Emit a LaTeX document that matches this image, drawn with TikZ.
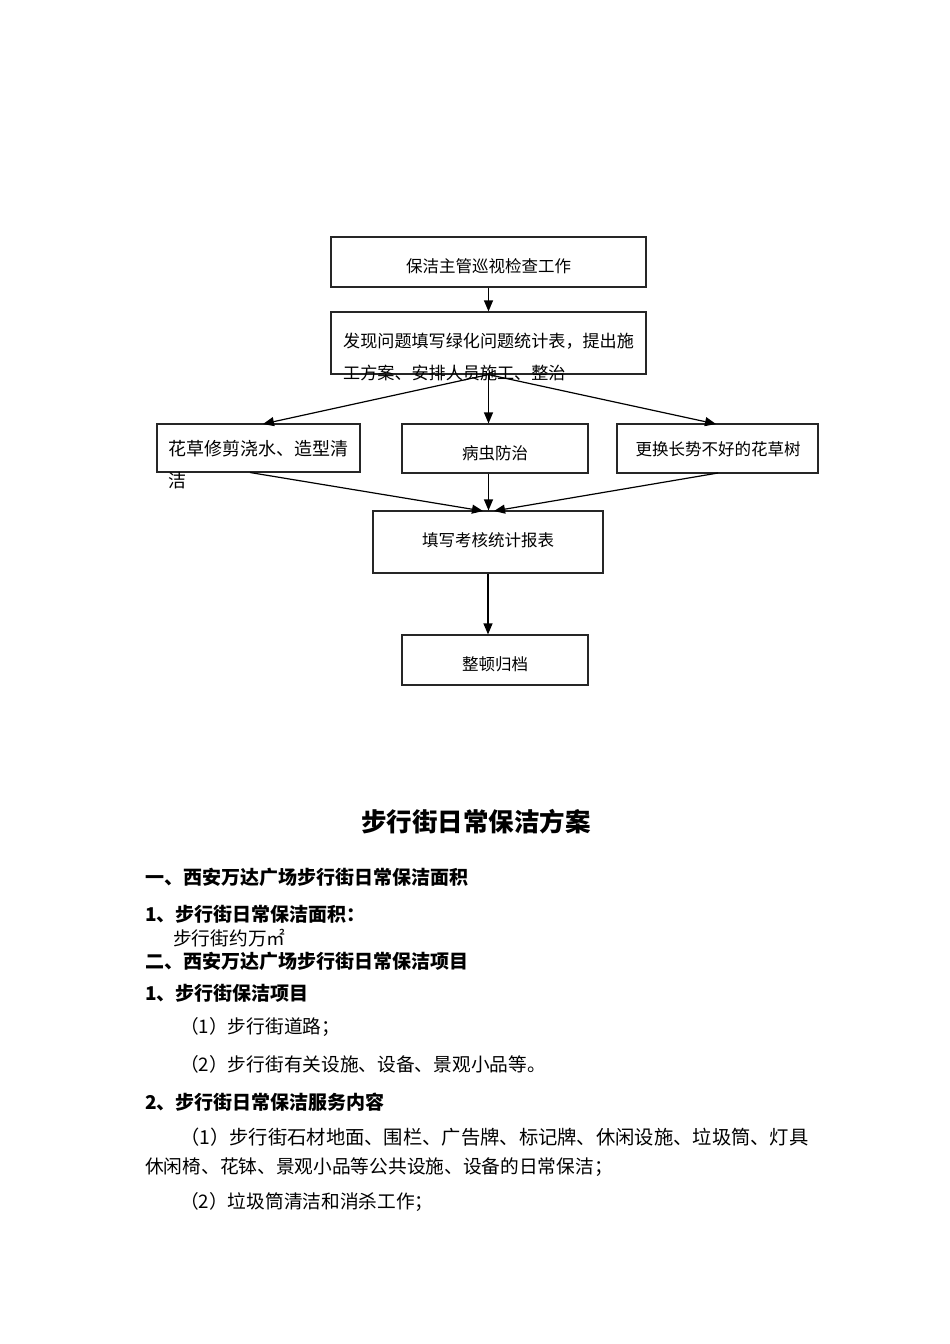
\documentclass[tikz,border=0pt]{standalone}
\usepackage{fontspec}
\setmainfont{Noto Sans CJK SC}
\usetikzlibrary{arrows.meta}
\begin{document}
\begin{tikzpicture}[x=1pt,y=-1pt,
  box/.style={draw=black!85,line width=1.2pt,inner sep=0pt},
  arr/.style={line width=1.2pt,-{Triangle[length=11pt,width=9pt]}},
  ft/.style={font=\fontsize{16.5}{20}\selectfont,inner sep=0pt},
  bt/.style={font=\fontsize{18.7}{22}\selectfont,inner sep=0pt,anchor=west},
  bh/.style={font=\bfseries\fontsize{19}{22}\selectfont,inner sep=0pt,anchor=west}]
\useasboundingbox (0,0) rectangle (950,1344);
% boxes
\node[box,minimum width=315pt,minimum height=50pt] (b1) at (488.5,262) {};
\node[ft] (t1) at (488.5,266) {保洁主管巡视检查工作};
\node[box,minimum width=315pt,minimum height=62pt] (b2) at (488.5,343) {};
\node[ft,anchor=west,font=\fontsize{17.1}{20}\selectfont] (t2a) at (343,341) {发现问题填写绿化问题统计表，提出施};
\node[ft,anchor=west,font=\fontsize{17.1}{20}\selectfont] (t2b) at (343,373) {工方案、安排人员施工、整治};
\node[box,minimum width=203pt,minimum height=48pt] (b3) at (258.5,448) {};
\node[ft,anchor=west,font=\fontsize{18}{20}\selectfont] (t3a) at (168,449) {花草修剪浇水、造型清};
\node[ft,anchor=west,font=\fontsize{18}{20}\selectfont] (t3b) at (168,481) {洁};
\node[box,minimum width=186pt,minimum height=49pt] (b4) at (495,448.5) {};
\node[ft] (t4) at (495,453) {病虫防治};
\node[box,minimum width=201pt,minimum height=49pt] (b5) at (717.5,448.5) {};
\node[ft] (t5) at (718,449) {更换长势不好的花草树};
\node[box,minimum width=230pt,minimum height=62pt] (b6) at (488,542) {};
\node[ft] (t6) at (488,540) {填写考核统计报表};
\node[box,minimum width=186pt,minimum height=50pt] (b7) at (495,660) {};
\node[ft] (t7) at (495,664) {整顿归档};
% connectors
\coordinate (e3) at (263,424);
\coordinate (e5) at (716,424);
\coordinate (s3) at (250,472.5);
\coordinate (s5) at (718,473);
\coordinate (m3) at (483,511);
\coordinate (m5) at (494,511);
\draw[arr] (b1.south) -- (b2.north);
\draw[arr] (b2.south) -- (e3);
\draw[arr] (b2.south) -- (b2.south |- b4.north);
\draw[arr] (b2.south) -- (e5);
\draw[arr] (s3) -- (m3);
\draw[arr] (b2.south |- b4.south) -- (b2.south |- b6.north);
\draw[arr] (s5) -- (m5);
\draw[arr] (b6.south) -- (b6.south |- b7.north);
% text
\node[font=\bfseries\fontsize{25.5}{30}\selectfont,inner sep=0pt] (title) at (476,822) {步行街日常保洁方案};
\node[bh] (h1) at (145,877) {一、西安万达广场步行街日常保洁面积};
\node[bh] (h11) at (145,914) {1、步行街日常保洁面积：};
\node[bt] (p1) at (173,938) {步行街约万㎡};
\node[bh] (h2) at (145,961) {二、西安万达广场步行街日常保洁项目};
\node[bh] (h21) at (145,993) {1、步行街保洁项目};
\node[bt] (p2) at (180,1027) {（1）步行街道路；};
\node[bt] (p3) at (180,1064) {（2）步行街有关设施、设备、景观小品等。};
\node[bh] (h22) at (145,1102) {2、步行街日常保洁服务内容};
\node[bt,font=\fontsize{19.3}{22}\selectfont] (p4) at (180,1137) {（1）步行街石材地面、围栏、广告牌、标记牌、休闲设施、垃圾筒、灯具};
\node[bt] (p5) at (145,1167) {休闲椅、花钵、景观小品等公共设施、设备的日常保洁；};
\node[bt] (p6) at (180,1202) {（2）垃圾筒清洁和消杀工作；};
\end{tikzpicture}
\end{document}
